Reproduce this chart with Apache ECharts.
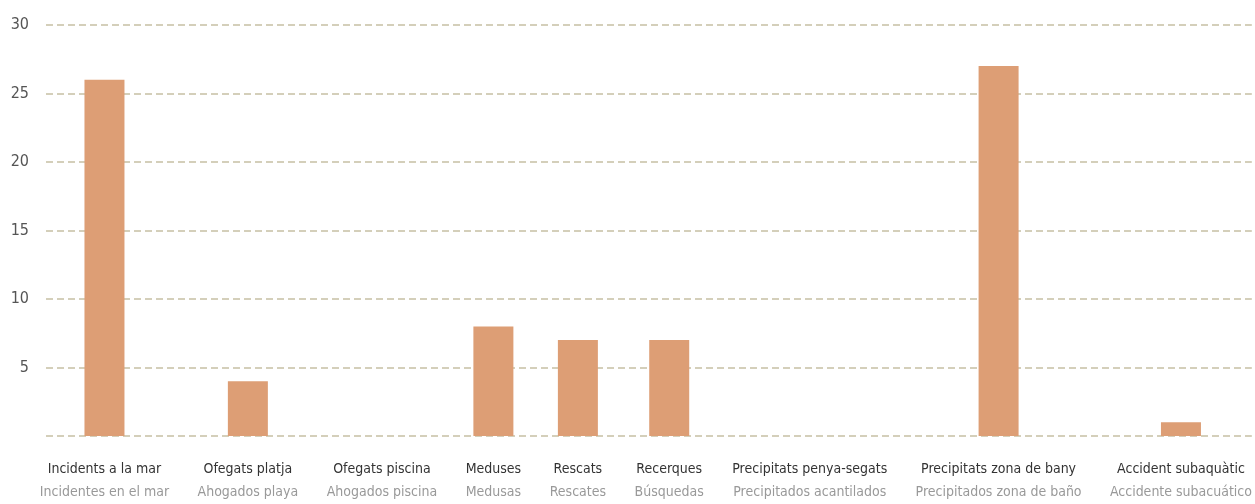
<!DOCTYPE html>
<html>
<head>
<meta charset="utf-8">
<script src="https://cdn.jsdelivr.net/npm/echarts@6/dist/echarts.min.js"></script>
<style>
  html, body { margin: 0; padding: 0; background: #fff; }
  #chart { width: 1255px; height: 504px; }
</style>
</head>
<body>
<div id="chart"></div>
<script>
// labels: catalan on top, spanish below
const labelsCa = ["Incidents a la mar", "Ofegats platja", "Ofegats piscina", "Meduses", "Rescats",
  "Recerques", "Precipitats penya-segats", "Precipitats zona de bany", "Accident subaquàtic"];
const labelsEs = ["Incidentes en el mar", "Ahogados playa", "Ahogados piscina", "Medusas", "Rescates",
  "Búsquedas", "Precipitados acantilados", "Precipitados zona de baño", "Accidente subacuático"];
const values = [26, 4, 0, 8, 7, 7, 0, 27, 1];
const yTicks = [0, 5, 10, 15, 20, 25, 30];

const FONT = '"DejaVu Sans Condensed", "Liberation Sans Narrow", sans-serif';
const FONT_SIZE = 14;

// each category takes the width of its label, with equal gaps between them
function categoryCenters(left, right) {
  const ctx = document.createElement("canvas").getContext("2d");
  ctx.font = FONT_SIZE + "px " + FONT;
  const widths = labelsCa.map((t, i) =>
    Math.max(ctx.measureText(t).width, ctx.measureText(labelsEs[i]).width));
  const total = widths.reduce((a, b) => a + b, 0);
  const gap = (right - left - total) / (widths.length - 1);
  const centers = [];
  let x = left;
  widths.forEach(w => {
    centers.push(x + w / 2);
    x += w + gap;
  });
  return centers;
}

const gridLeft = 46;
const chartWidth = 1255;
const centers = categoryCenters(40, chartWidth);

const chart = echarts.init(document.getElementById("chart"));
chart.setOption({
  animation: false,
  grid: { left: gridLeft, right: 0, top: 25, bottom: 68 },
  xAxis: {
    type: "value",
    min: gridLeft,
    max: chartWidth,
    splitLine: { show: false },
    axisLine: { show: false },
    axisTick: { show: false },
    axisLabel: {
      customValues: centers,
      margin: 22,
      formatter: v => {
        const i = centers.findIndex(c => Math.abs(c - v) < 0.01);
        return i < 0 ? "" : "{a|" + labelsCa[i] + "}\n{b|" + labelsEs[i] + "}";
      },
      rich: {
        a: { fontFamily: FONT, fontSize: FONT_SIZE, color: "#333", lineHeight: 23 },
        b: { fontFamily: FONT, fontSize: FONT_SIZE, color: "#999", lineHeight: 23 }
      }
    }
  },
  yAxis: {
    type: "value",
    min: yTicks[0],
    max: yTicks[yTicks.length - 1],
    interval: 5,
    axisLine: { show: false },
    axisTick: { show: false },
    axisLabel: {
      fontFamily: FONT,
      fontSize: 16,
      color: "#555",
      margin: 17,
      formatter: v => (v === 0 ? "" : String(v))
    },
    splitLine: {
      lineStyle: { color: "#c6c0a4", width: 1.5, type: [7, 4] }
    }
  },
  series: [{
    type: "bar",
    barWidth: 40,
    itemStyle: { color: "#dd9e75" },
    data: values.map((v, i) => [centers[i], v])
  }]
});
</script>
</body>
</html>
